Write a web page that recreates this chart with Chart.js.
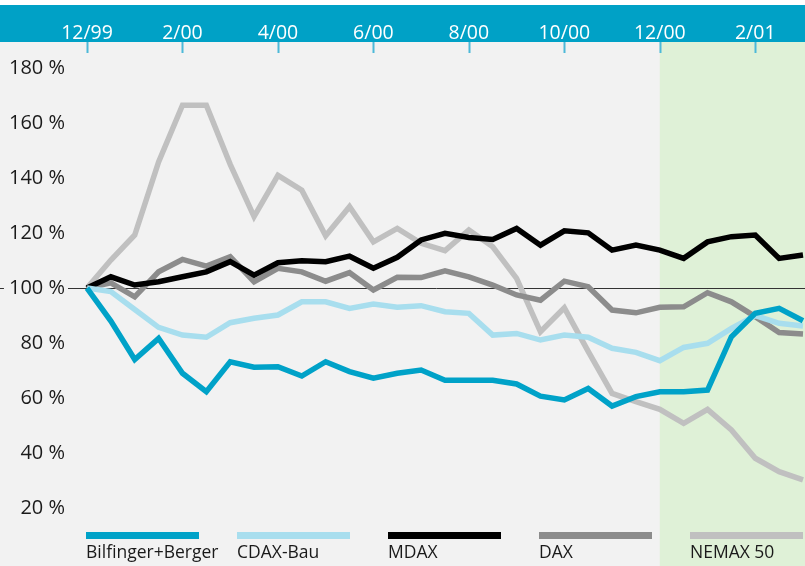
<!DOCTYPE html>
<html>
<head>
<meta charset="utf-8">
<script src="https://cdn.jsdelivr.net/npm/chart.js@4/dist/chart.umd.min.js"></script>
<style>
  html, body { margin: 0; padding: 0; background: #fff; }
  #grafico { width: 805px; height: 566px; position: relative; }
</style>
</head>
<body>
<div id="grafico"><canvas id="c"></canvas></div>
<script>
// x ticks every 2 months, data every half month
const tickLabels = ['12/99', '2/00', '4/00', '6/00', '8/00', '10/00', '12/00', '2/01'];
const pointsPerTick = 4;

const seriesNames = ['Bilfinger+Berger', 'CDAX-Bau', 'MDAX', 'DAX', 'NEMAX 50'];

const bilfinger = [100, 88, 74, 81.7, 69, 62.3, 73.2, 71.2, 71.4, 68, 73.2, 69.6, 67.2, 69, 70.2, 66.5,
    66.5, 66.5, 65.1, 60.7, 59.3, 63.5, 57.1, 60.5, 62.3, 62.3, 62.9, 82.3, 90.8, 92.6, 88.1];
const cdaxBau = [100, 98.7, 92.2, 85.7, 82.9, 82.1, 87.4, 89, 90.2, 95, 95, 92.6, 94.2, 93, 93.6, 91.4,
    90.8, 82.9, 83.5, 81.1, 82.9, 82.1, 78.1, 76.6, 73.6, 78.4, 79.9, 85.3, 90, 87.2, 86.2];
const mdax = [100, 104.1, 101.1, 102.3, 104.1, 105.9, 109.6, 104.7, 109.2, 109.9, 109.6, 111.6, 107.2, 111.2, 117.5, 119.9,
    118.4, 117.7, 121.7, 115.6, 120.8, 120.1, 113.8, 115.6, 113.8, 110.8, 116.8, 118.7, 119.3, 110.8, 112];
const dax = [100, 101.9, 96.8, 105.9, 110.4, 108, 111.4, 102.3, 107.2, 105.9, 102.5, 105.6, 99.3, 103.9, 103.8, 106.3,
    104.1, 101.1, 97.5, 95.6, 102.5, 100.5, 92, 91, 93, 93.2, 98.3, 95, 89.6, 83.8, 83.3];
const nemax = [100, 110.2, 119.3, 145.9, 166.5, 166.5, 145, 126, 141, 135.6, 119, 129.6, 116.8, 121.7, 116.3, 113.6,
    121.1, 115, 103.5, 84.1, 92.8, 77, 61.7, 58.7, 55.9, 50.8, 55.9, 48.4, 38.1, 33.2, 30.2];

const coloriLinee = ['#00a2c8', '#a8deee', '#000000', '#8c8c8c', '#c0c0c0'];
const fontBase = '"Open Sans", "Noto Sans", sans-serif';

const labels = bilfinger.map((_, i) => i % pointsPerTick === 0 ? tickLabels[i / pointsPerTick] : '');
const greenFrom = tickLabels.indexOf('12/00') * pointsPerTick;

const sfondoPlugin = {
    id: 'sfondo',
    beforeDraw(chart) {
        const { ctx, chartArea, width, height } = chart;
        const x = chart.scales.x;
        ctx.save();
        ctx.fillStyle = '#ffffff';
        ctx.fillRect(0, 0, width, height);
        ctx.fillStyle = '#00a1c6';
        ctx.fillRect(0, 5, width, chartArea.top - 5);
        ctx.fillStyle = '#f2f2f2';
        ctx.fillRect(0, chartArea.top, width, height - chartArea.top);
        const gx = x.getPixelForValue(greenFrom);
        ctx.fillStyle = '#dff1d7';
        ctx.fillRect(gx, chartArea.top, width - gx, height - chartArea.top);
        ctx.restore();
    },
    beforeDatasetsDraw(chart) {
        const { ctx, chartArea, width } = chart;
        const x = chart.scales.x, y = chart.scales.y;
        ctx.save();
        // tick marks under the band
        ctx.strokeStyle = '#4db9d8';
        ctx.lineWidth = 2;
        labels.forEach((l, i) => {
            if (!l) return;
            const px = Math.round(x.getPixelForValue(i)) + 0.5;
            ctx.beginPath();
            ctx.moveTo(px, chartArea.top);
            ctx.lineTo(px, chartArea.top + 11);
            ctx.stroke();
        });
        // 100 % line, with a gap for its label
        const py = Math.round(y.getPixelForValue(100)) + 0.5;
        ctx.font = '20px ' + fontBase;
        const w = ctx.measureText('100 %').width;
        ctx.strokeStyle = '#333333';
        ctx.lineWidth = 1;
        ctx.beginPath();
        ctx.moveTo(0, py);
        ctx.lineTo(65 - w - 5, py);
        ctx.moveTo(68, py);
        ctx.lineTo(width, py);
        ctx.stroke();
        ctx.restore();
    },
    afterDraw(chart) {
        const ctx = chart.ctx;
        ctx.save();
        chart.data.datasets.forEach((ds, i) => {
            const x0 = 86 + i * 151;
            ctx.fillStyle = ds.borderColor;
            ctx.fillRect(x0, 532, 113, 7);
            ctx.fillStyle = '#1a1a1a';
            ctx.font = '17.5px ' + fontBase;
            ctx.textBaseline = 'alphabetic';
            ctx.fillText(ds.label, x0, 558);
        });
        ctx.restore();
    }
};

const serie = [bilfinger, cdaxBau, mdax, dax, nemax];

new Chart(document.getElementById('c'), {
    type: 'line',
    data: {
        labels: labels,
        datasets: serie.map((d, i) => ({
            label: seriesNames[i],
            data: d,
            borderColor: coloriLinee[i],
            borderWidth: 5.5,
            pointRadius: 0,
            tension: 0,
            fill: false,
            clip: false,
            borderJoinStyle: 'miter',
            borderCapStyle: 'butt'
        }))
    },
    options: {
        responsive: true,
        maintainAspectRatio: false,
        animation: false,
        devicePixelRatio: 1,
        layout: { padding: { top: 5, left: 0, right: 2, bottom: 3 } },
        scales: {
            x: {
                position: 'top',
                offset: false,
                grid: { color: 'rgba(0,0,0,0)', drawOnChartArea: false, drawTicks: true, tickLength: 0 },
                border: { display: false },
                ticks: {
                    color: '#ffffff',
                    font: { family: fontBase, size: 19.5 },
                    padding: -3,
                    autoSkip: false,
                    maxRotation: 0
                },
                afterFit(s) { s.height = 37; }
            },
            y: {
                min: 0,
                max: 189.5,
                grid: { color: 'rgba(0,0,0,0)', drawOnChartArea: false, drawTicks: true, tickLength: 22 },
                border: { display: false },
                ticks: {
                    stepSize: 20,
                    color: '#1a1a1a',
                    font: { family: fontBase, size: 20, lineHeight: 0.1 },
                    padding: 0,
                    callback: v => (v >= 20 && v <= 180) ? v + ' %' : null
                },
                afterFit(s) { s.width = 87; }
            }
        },
        plugins: {
            legend: { display: false },
            tooltip: { enabled: false }
        }
    },
    plugins: [sfondoPlugin]
});
</script>
</body>
</html>
